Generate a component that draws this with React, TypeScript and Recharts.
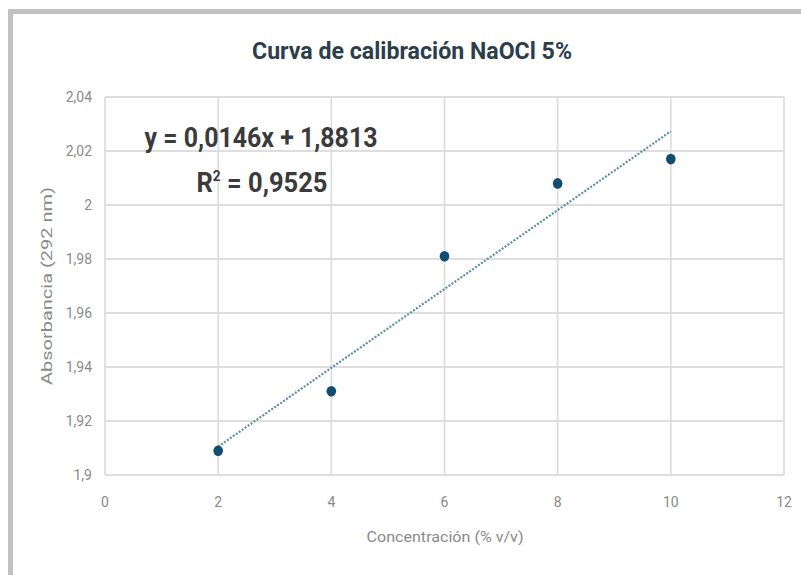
import { ScatterChart, Scatter, XAxis, YAxis, CartesianGrid } from 'recharts';

const concentrations = [2, 4, 6, 8, 10];
const absorbances = [1.909, 1.931, 1.981, 2.008, 2.017];
const trendX = [2, 10];
const trendY = [1.9105, 2.0273];
const xTicks = [0, 2, 4, 6, 8, 10, 12];
const yTicks = [1.9, 1.92, 1.94, 1.96, 1.98, 2, 2.02, 2.04];

const points = concentrations.map((x, i) => ({ x, y: absorbances[i] }));
const trend = trendX.map((x, i) => ({ x, y: trendY[i] }));

const fmt = (v: number) => String(v).replace('.', ',');
const tickStyle = { fontSize: 14, fill: '#8a8a8a', fontFamily: 'Roboto, sans-serif' };

const Dot = (props: any) => <ellipse cx={props.cx} cy={props.cy} rx={4.8} ry={5.3} fill="#0f4e6e" />;
const NoDot = () => <g />;

export default function App() {
  return (
    <div style={{ position: 'absolute', left: 0, top: 0, width: 801, height: 575, background: '#fff', overflow: 'hidden' }}>
      <div
        style={{
          position: 'absolute',
          left: 8,
          top: 9,
          width: 801,
          height: 575,
          borderTop: '5px solid #c2c2c2',
          borderLeft: '5px solid #c2c2c2',
          boxSizing: 'border-box',
        }}
      />
      <ScatterChart width={801} height={575} margin={{ top: 97, right: 17, left: 45, bottom: 70 }}>
        <CartesianGrid stroke="#dedede" strokeWidth={1.8} />
        <XAxis
          type="number"
          dataKey="x"
          domain={[0, 12]}
          ticks={xTicks}
          tickFormatter={fmt}
          tick={tickStyle}
          axisLine={false}
          tickLine={false}
          tickSize={0}
          tickMargin={22}
          height={30}
        />
        <YAxis
          type="number"
          dataKey="y"
          domain={[1.9, 2.04]}
          ticks={yTicks}
          tickFormatter={fmt}
          tick={tickStyle}
          axisLine={false}
          tickLine={false}
          tickSize={0}
          tickMargin={13}
          width={60}
        />
        <Scatter
          data={trend}
          line={{ stroke: '#5b8eaa', strokeWidth: 2.2, strokeDasharray: '2 1.6' }}
          shape={NoDot}
          isAnimationActive={false}
        />
        <Scatter data={points} fill="#0f4e6e" shape={Dot} isAnimationActive={false} />
      </ScatterChart>
      <svg width={801} height={575} style={{ position: 'absolute', left: 0, top: 0, pointerEvents: 'none' }}>
        <text
          x={412}
          y={59}
          textAnchor="middle"
          fontFamily="Roboto, sans-serif"
          fontWeight={700}
          fontSize={24}
          fill="#2c3e4a"
          textLength={320}
          lengthAdjust="spacingAndGlyphs"
        >
          Curva de calibración NaOCl 5%
        </text>
        <text
          x={261}
          y={147}
          textAnchor="middle"
          fontFamily="Roboto, sans-serif"
          fontWeight={700}
          fontSize={28}
          fill="#3b3b3b"
          textLength={233}
          lengthAdjust="spacingAndGlyphs"
        >
          y = 0,0146x + 1,8813
        </text>
        <text
          x={262}
          y={192}
          textAnchor="middle"
          fontFamily="Roboto, sans-serif"
          fontWeight={700}
          fontSize={28}
          fill="#3b3b3b"
          textLength={131}
          lengthAdjust="spacingAndGlyphs"
        >
          R<tspan dy={-11} fontSize={15}>2</tspan><tspan dy={11}> = 0,9525</tspan>
        </text>
        <text
          x={445}
          y={542}
          textAnchor="middle"
          fontFamily="Roboto, sans-serif"
          fontSize={15}
          fill="#8a8a8a"
          textLength={157}
          lengthAdjust="spacingAndGlyphs"
        >
          Concentración (% v/v)
        </text>
        <text
          transform="translate(52,286) rotate(-90)"
          textAnchor="middle"
          fontFamily="Roboto, sans-serif"
          fontSize={14}
          fill="#8a8a8a"
          textLength={198}
          lengthAdjust="spacingAndGlyphs"
        >
          Absorbancia (292 nm)
        </text>
      </svg>
    </div>
  );
}
